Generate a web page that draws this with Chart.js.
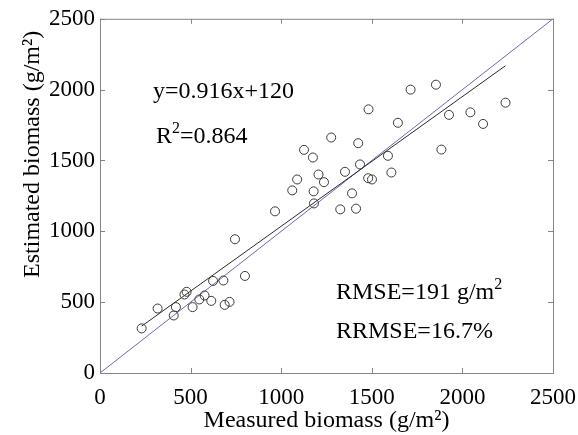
<!DOCTYPE html>
<html lang="en">
<head>
    <meta charset="UTF-8">
    <title>Estimated vs measured biomass</title>
    <script src="https://cdn.jsdelivr.net/npm/chart.js"></script>
    <style>
        body { margin: 0; background: #fff; }
        #wrap { width: 578px; height: 435px; }
    </style>
</head>
<body>
    <div id="wrap"><canvas id="chart" width="578" height="435"></canvas></div>
    <script>
        // values (g/m2)
        const measured = [230, 318, 407, 419, 466, 478, 511, 548, 577, 614, 624, 681, 688, 715, 745, 800,
            966, 1061, 1088, 1126, 1175, 1179, 1181, 1206, 1236, 1276, 1326, 1352, 1391, 1413, 1425, 1435,
            1480, 1501, 1482, 1589, 1608, 1644, 1714, 1854, 1884, 1926, 2044, 2114, 2238];
        const estimated = [315, 455, 406, 465, 554, 573, 465, 519, 547, 509, 650, 653, 481, 502, 944, 685,
            1141, 1289, 1366, 1575, 1521, 1282, 1197, 1401, 1347, 1662, 1155, 1420, 1268, 1160, 1622, 1472,
            1375, 1366, 1861, 1533, 1415, 1766, 2000, 2035, 1577, 1822, 1840, 1758, 1908];
        const fitX = [230, 2238];
        const fitY = [331, 2169];
        const oneToOne = [0, 2500];
        const tickValues = [0, 500, 1000, 1500, 2000, 2500];

        const serif = '"Liberation Serif", "Times New Roman", serif';

        function pts(xs, ys) {
            return xs.map((x, i) => ({ x: x, y: ys[i] }));
        }

        // MATLAB style box with inward ticks
        const framePlugin = {
            id: 'frame',
            afterDatasetsDraw(chart) {
                const { ctx, chartArea: a, scales } = chart;
                ctx.save();
                ctx.strokeStyle = '#858585';
                ctx.lineWidth = 1;
                ctx.strokeRect(a.left + 0.5, a.top + 0.5, a.right - a.left, a.bottom - a.top);
                ctx.beginPath();
                tickValues.forEach(v => {
                    const px = Math.round(scales.x.getPixelForValue(v)) + 0.5;
                    const py = Math.round(scales.y.getPixelForValue(v)) + 0.5;
                    ctx.moveTo(px, a.bottom); ctx.lineTo(px, a.bottom - 5);
                    ctx.moveTo(px, a.top); ctx.lineTo(px, a.top + 5);
                    ctx.moveTo(a.left, py); ctx.lineTo(a.left + 5, py);
                    ctx.moveTo(a.right, py); ctx.lineTo(a.right - 5, py);
                });
                ctx.stroke();
                ctx.restore();
            }
        };

        function drawParts(ctx, parts, x, y) {
            parts.forEach(p => {
                if (p.sup) {
                    ctx.font = '16px ' + serif;
                    ctx.fillText(p.t, x, y - 10);
                } else {
                    ctx.font = '24px ' + serif;
                    ctx.fillText(p.t, x, y);
                }
                x += ctx.measureText(p.t).width;
            });
        }

        const notesPlugin = {
            id: 'notes',
            afterDraw(chart) {
                const ctx = chart.ctx;
                ctx.save();
                ctx.fillStyle = '#000';
                ctx.textBaseline = 'alphabetic';
                ctx.textAlign = 'left';
                drawParts(ctx, [{ t: 'y=0.916x+120' }], 153, 98);
                drawParts(ctx, [{ t: 'R' }, { t: '2', sup: true }, { t: '=0.864' }], 156, 143);
                drawParts(ctx, [{ t: 'RMSE=191 g/m' }, { t: '2', sup: true }], 336, 299);
                drawParts(ctx, [{ t: 'RRMSE=16.7%' }], 336, 338);
                ctx.restore();
            }
        };

        const tickFont = { family: serif, size: 23 };
        const plain = v => String(v);

        new Chart(document.getElementById('chart'), {
            type: 'scatter',
            data: {
                datasets: [
                    {
                        label: 'Samples',
                        data: pts(measured, estimated),
                        pointStyle: 'circle',
                        pointRadius: 4.5,
                        pointHoverRadius: 4.5,
                        borderColor: '#3a3a3a',
                        borderWidth: 1,
                        backgroundColor: 'rgba(0,0,0,0)'
                    },
                    {
                        label: 'Fit',
                        type: 'line',
                        data: pts(fitX, fitY),
                        borderColor: '#2a2a2a',
                        borderWidth: 1,
                        pointRadius: 0,
                        fill: false
                    },
                    {
                        label: '1:1',
                        type: 'line',
                        data: pts(oneToOne, oneToOne),
                        borderColor: '#6a6ab4',
                        borderWidth: 1,
                        pointRadius: 0,
                        fill: false
                    }
                ]
            },
            options: {
                responsive: false,
                animation: false,
                events: [],
                layout: { padding: { top: 18, right: 25, left: 0, bottom: 0 } },
                plugins: {
                    legend: { display: false },
                    tooltip: { enabled: false }
                },
                scales: {
                    x: {
                        type: 'linear',
                        min: 0,
                        max: 2500,
                        afterBuildTicks: s => { s.ticks = tickValues.map(v => ({ value: v })); },
                        afterFit: s => { s.height = 62; s.paddingRight = 0; },
                        grid: { drawOnChartArea: false, drawTicks: false },
                        border: { display: false },
                        ticks: { font: tickFont, color: '#000', padding: 11, maxRotation: 0, callback: plain },
                        title: {
                            display: true,
                            text: 'Measured biomass (g/m²)',
                            font: { family: serif, size: 24 },
                            color: '#000',
                            padding: { top: 0, bottom: 0 }
                        }
                    },
                    y: {
                        type: 'linear',
                        min: 0,
                        max: 2500,
                        afterBuildTicks: s => { s.ticks = tickValues.map(v => ({ value: v })); },
                        afterFit: s => { s.width = 100; },
                        grid: { drawOnChartArea: false, drawTicks: false },
                        border: { display: false },
                        ticks: { font: tickFont, color: '#000', padding: 5, callback: plain },
                        title: {
                            display: true,
                            text: 'Estimated biomass (g/m²)\u2002',
                            align: 'end',
                            font: { family: serif, size: 24 },
                            color: '#000',
                            padding: { top: 18, bottom: 0 }
                        }
                    }
                }
            },
            plugins: [framePlugin, notesPlugin]
        });
    </script>
</body>
</html>
